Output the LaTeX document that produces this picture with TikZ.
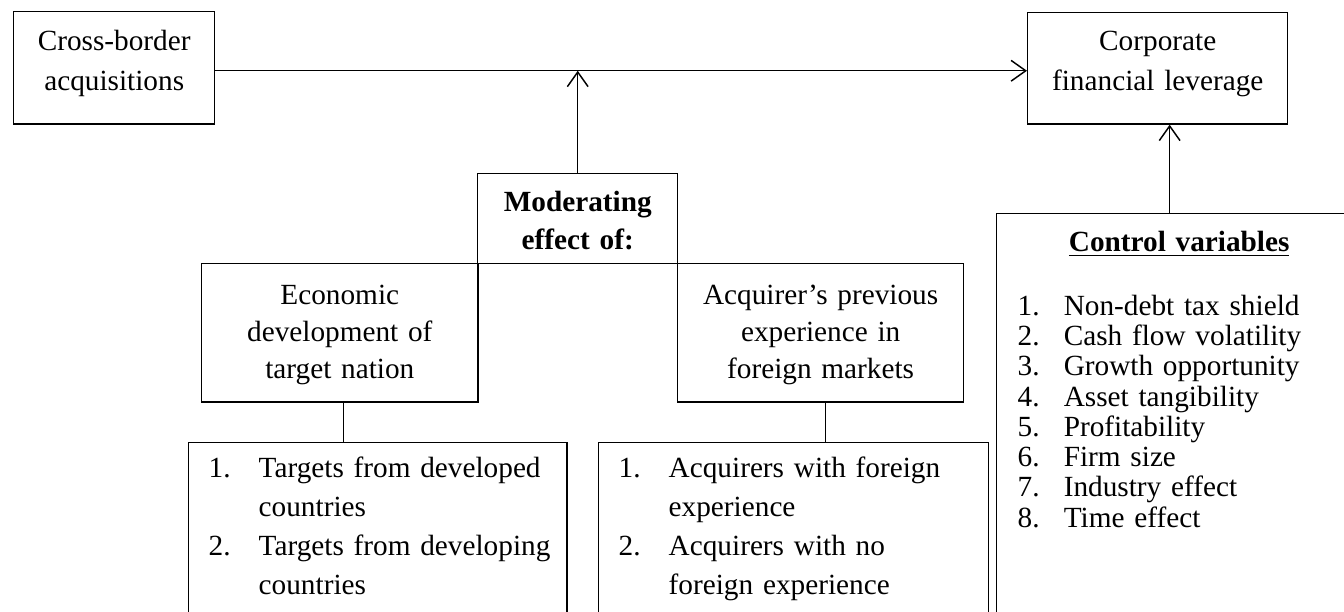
\documentclass[tikz,border=0pt]{standalone}
\usepackage{fontspec}
\setmainfont{Liberation Serif}
\usetikzlibrary{arrows.meta}
\newlength{\labw}
\newcommand{\entry}[2]{\hangindent=\labw\hangafter=1\noindent\makebox[\labw][l]{#1}#2\par}

\begin{document}
\begin{tikzpicture}[
		x=0.41pt, y=-0.41pt,
		box/.style={draw, line width=0.6pt, inner sep=0pt, anchor=north west, align=center, font=\fontsize{12}{16.4}\selectfont},
		midbox/.style={box, font=\fontsize{12}{15.3}\selectfont},
		list/.style={box, align=left, font=\fontsize{12}{16}\selectfont},
		link/.style={line width=0.6pt, -{Straight Barb[length=6pt,width=8.5pt]}}
		]
		\useasboundingbox (0,0) rectangle (1344,611);
		\clip (0,0) rectangle (1344,611);
		\node[box, text width=82.4pt, text height=16pt, text depth=30pt] (src) at (13,11) {Cross-border\\acquisitions};
		\node[box, text width=106.6pt, text height=15.6pt, text depth=30pt] (dep) at (1027,12) {Corporate\\financial leverage};
		\node[box, font=\fontsize{12}{15.5}\selectfont\bfseries, text width=82pt, text height=15.6pt, text depth=21.3pt] (mod) at (477,173) {Moderating\\effect of:};
		\node[midbox, text width=113.2pt, text height=16.6pt, text depth=40pt] (eco) at (201,263) {Economic\\development of\\target nation};
		\node[midbox, text width=117.2pt, text height=16.6pt, text depth=40pt] (exp) at (677,263) {Acquirer's previous\\experience in\\foreign markets};
		\node[list, text width=155pt, text height=14.4pt, text depth=66.8pt] (ecolist) at (188,442) {\setlength{\labw}{20.5pt}\leftskip=8.2pt
			\entry{1.}{Targets from developed\newline countries}
			\entry{2.}{Targets from developing\newline countries}};
		\node[list, text width=159.9pt, text height=14.4pt, text depth=66.8pt] (explist) at (598,442) {\setlength{\labw}{20.5pt}\leftskip=8.2pt
			\entry{1.}{Acquirers with foreign\newline experience}
			\entry{2.}{Acquirers with no\newline foreign experience}};
		\node[list, font=\fontsize{12}{12.4}\selectfont, text width=149.6pt, text height=15.5pt, text depth=159.6pt] (ctrl) at (996,213) {\centering\underline{\textbf{Control variables}}\par
			\vspace{13.8pt}\raggedright\setlength{\labw}{18.9pt}\leftskip=8.6pt
			\entry{1.}{Non-debt tax shield}
			\entry{2.}{Cash flow volatility}
			\entry{3.}{Growth opportunity}
			\entry{4.}{Asset tangibility}
			\entry{5.}{Profitability}
			\entry{6.}{Firm size}
			\entry{7.}{Industry effect}
			\entry{8.}{Time effect}};
		\coordinate (a) at ([yshift=-1.2pt]src.east);
		\coordinate (b) at ([xshift=-3.9pt]ctrl.north);
		\coordinate (c) at ([xshift=1.6pt]eco.south);
		\coordinate (d) at ([xshift=2pt]exp.south);
		\draw[link] (a) -- (a -| dep.west);
		\draw[link] (mod.north) -- (mod.north |- a);
		\draw[link] (b) -- (b |- dep.south);
		\draw[line width=0.6pt] (c) -- (c |- ecolist.north);
		\draw[line width=0.6pt] (d) -- (d |- explist.north);
\end{tikzpicture}
\end{document}
